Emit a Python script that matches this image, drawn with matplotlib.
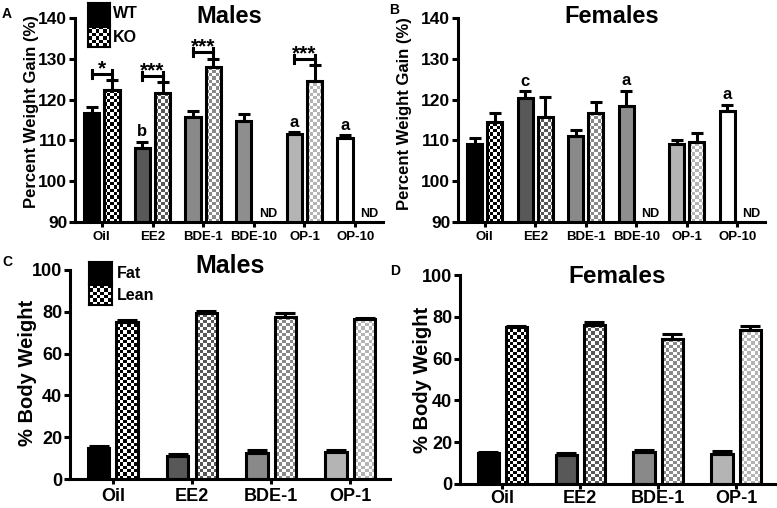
import numpy as np
import matplotlib
matplotlib.use('Agg')
import matplotlib.pyplot as plt
from matplotlib.colors import to_rgb

plt.rcParams['font.family'] = ['Liberation Sans', 'DejaVu Sans']
plt.rcParams['font.weight'] = 'bold'
plt.rcParams['axes.linewidth'] = 2.2

W, H = 777, 508

# 数据：体重增长 (%)
gain_groups = ['Oil', 'EE2', 'BDE-1', 'BDE-10', 'OP-1', 'OP-10']
gain_colors = ['#000000', '#585858', '#898989', '#8e8e8e', '#b4b4b4', '#ffffff']

male_wt = [116.6, 108.2, 115.7, 114.8, 111.6, 110.5]
male_wt_err = [1.7, 1.5, 1.5, 1.6, 0.4, 0.8]
male_ko = [122.4, 121.7, 128.1, None, 124.6, None]
male_ko_err = [2.3, 2.5, 1.9, None, 3.8, None]
male_sig = ['*', '***', '***', '', '***', '']
male_letters = ['', 'b', '', '', 'a', 'a']

fem_wt = [109.1, 120.3, 111.1, 118.4, 109.0, 117.2]
fem_wt_err = [1.4, 1.7, 1.4, 3.8, 1.2, 1.5]
fem_ko = [114.6, 115.8, 116.6, None, 109.5, None]
fem_ko_err = [2.2, 4.9, 2.7, None, 2.4, None]
fem_sig = ['', '', '', '', '', '']
fem_letters = ['', 'c', '', 'a', '', 'a']

# 数据：身体组成 (% body weight)
comp_groups = ['Oil', 'EE2', 'BDE-1', 'OP-1']
comp_colors = ['#000000', '#585858', '#898989', '#b4b4b4']

male_fat = [14.9, 11.0, 12.6, 13.0]
male_fat_err = [1.0, 0.8, 1.2, 0.8]
male_lean = [75.0, 79.6, 77.6, 76.6]
male_lean_err = [1.0, 0.7, 2.0, 0.4]

fem_fat = [14.8, 13.9, 15.5, 14.3]
fem_fat_err = [0.4, 1.0, 1.0, 1.3]
fem_lean = [75.0, 76.2, 69.6, 73.8]
fem_lean_err = [0.6, 1.5, 2.0, 1.7]


def checker_image(nx, ny, color):
    jj, ii = np.meshgrid(np.arange(nx), np.arange(ny))
    mask = ((ii + jj) % 2)[..., None]
    return np.where(mask == 1, np.array(to_rgb(color)), np.ones(3))


def checker_fill(ax, patch, color, cell=3.3):
    x0, y0 = patch.get_x(), patch.get_y()
    w, h = patch.get_width(), patch.get_height()
    ylo = max(y0, ax.get_ylim()[0])
    p0 = ax.transData.transform((x0, ylo))
    p1 = ax.transData.transform((x0 + w, y0 + h))
    nx = max(2, int(round((p1[0] - p0[0]) / cell)))
    ny = int(np.ceil((p1[1] - p0[1]) / cell))
    yhi = ylo + ny * cell * (y0 + h - ylo) / (p1[1] - p0[1])
    im = ax.imshow(checker_image(nx, ny, color), extent=(x0, x0 + w, ylo, yhi),
                   origin='lower', interpolation='nearest', aspect='auto', zorder=1.5)
    im.set_clip_path(patch)


def style_axes(ax, ysize, xsize, xpad=3):
    for s in ['top', 'right']:
        ax.spines[s].set_visible(False)
    ax.tick_params(axis='y', direction='out', length=4, width=2.2, pad=1.5,
                   labelsize=ysize)
    ax.tick_params(axis='x', direction='out', length=3.5, width=2.2, pad=xpad,
                   labelsize=xsize)
    for lab in ax.get_xticklabels() + ax.get_yticklabels():
        lab.set_fontweight('bold')


def up_err(ax, xs, tops, errs, capsize):
    ax.errorbar(xs, tops, yerr=[np.zeros(len(errs)), errs], fmt='none', ecolor='black',
                elinewidth=2.2, capsize=capsize, capthick=2.2, zorder=4)


def gain_panel(ax, wt, wt_err, ko, ko_err, sig, letters):
    x = np.arange(len(gain_groups))
    ax.set_xlim(-0.53, 5.55)
    ax.set_ylim(90, 140)
    ax.set_yticks(np.arange(90, 141, 10))
    ax.set_xticks(x)
    ax.set_xticklabels(gain_groups)
    off, bw = 0.2, 0.3
    ax.bar(x - off, wt, bw, color=gain_colors, edgecolor='black', linewidth=2.2, zorder=2)
    up_err(ax, x - off, wt, wt_err, 4.5)
    for i in x:
        if ko[i] is None:
            ax.text(i + 0.28, 90.6, 'ND', ha='center', va='bottom', fontsize=9,
                    fontweight='bold')
            continue
        bar = ax.bar(i + off, ko[i], bw, color='none', edgecolor='black',
                     linewidth=2.2, zorder=2)[0]
        checker_fill(ax, bar, gain_colors[i])
        up_err(ax, [i + off], [ko[i]], [ko_err[i]], 4.5)
        if sig[i]:
            yb = ko[i] + ko_err[i] + 1.6
            ax.plot([i - off, i + off], [yb, yb], color='black', lw=2.2, zorder=4)
            for xe in (i - off, i + off):
                ax.plot([xe, xe], [yb - 1.0, yb + 1.0], color='black', lw=2.2, zorder=4)
            ax.text(i, yb - 0.1, sig[i], ha='center', va='baseline', fontsize=15,
                    fontweight='bold')
    for i in x:
        if letters[i]:
            ax.text(i - off, wt[i] + wt_err[i] + 0.6, letters[i], ha='center',
                    va='bottom', fontsize=12, fontweight='bold')
    style_axes(ax, 12.5, 9.5)


def comp_panel(ax, fat, fat_err, lean, lean_err, xpad):
    x = np.arange(len(comp_groups))
    ax.set_xlim(-0.54, 3.5)
    ax.set_ylim(0, 100)
    ax.set_yticks(np.arange(0, 101, 20))
    ax.set_xticks(x)
    ax.set_xticklabels(comp_groups)
    off, bw = 0.18, 0.27
    ax.bar(x - off, fat, bw, color=comp_colors, edgecolor='black', linewidth=2.2, zorder=2)
    up_err(ax, x - off, fat, fat_err, 7)
    bars = ax.bar(x + off, lean, bw, color='none', edgecolor='black', linewidth=2.2, zorder=2)
    for bar, c in zip(bars, comp_colors):
        checker_fill(ax, bar, c)
    up_err(ax, x + off, lean, lean_err, 7)
    style_axes(ax, 13, 13, xpad)


def swatch(fig, box, color, checker):
    x0, y0, x1, y1 = box
    sax = fig.add_axes([x0 / W, 1 - y1 / H, (x1 - x0) / W, (y1 - y0) / H])
    if checker:
        sax.imshow(checker_image(6, 6, color), extent=(0, 1, 0, 1), aspect='auto',
                   interpolation='nearest')
    else:
        sax.set_facecolor(color)
    sax.set_xticks([])
    sax.set_yticks([])
    for s in sax.spines.values():
        s.set_linewidth(1.5)


fig = plt.figure(figsize=(W / 100, H / 100), dpi=100)

axA = fig.add_axes([75 / W, 1 - 222 / H, 308 / W, 204 / H])
axB = fig.add_axes([458 / W, 1 - 222 / H, 307 / W, 204 / H])
axC = fig.add_axes([70 / W, 1 - 479 / H, 320 / W, 209 / H])
axD = fig.add_axes([460 / W, 1 - 484 / H, 315 / W, 209 / H])

gain_panel(axA, male_wt, male_wt_err, male_ko, male_ko_err, male_sig, male_letters)
gain_panel(axB, fem_wt, fem_wt_err, fem_ko, fem_ko_err, fem_sig, fem_letters)
comp_panel(axC, male_fat, male_fat_err, male_lean, male_lean_err, 3)
comp_panel(axD, fem_fat, fem_fat_err, fem_lean, fem_lean_err, 0.5)

# 标题
axA.text(0.5, 0.977, 'Males', transform=axA.transAxes, ha='center', va='baseline',
         fontsize=17, fontweight='bold')
axB.text(0.5, 0.975, 'Females', transform=axB.transAxes, ha='center', va='baseline',
         fontsize=17, fontweight='bold')
axC.text(0.5, 0.986, 'Males', transform=axC.transAxes, ha='center', va='baseline',
         fontsize=18, fontweight='bold')
axD.text(0.5, 0.962, 'Females', transform=axD.transAxes, ha='center', va='baseline',
         fontsize=17.5, fontweight='bold')

# y轴标签
fig.text(32 / W, 1 - 112 / H, 'Percent Weight Gain (%)', rotation=90, ha='center',
         va='center', fontsize=12, fontweight='bold')
fig.text(405 / W, 1 - 114 / H, 'Percent Weight Gain (%)', rotation=90, ha='center',
         va='center', fontsize=12, fontweight='bold')
fig.text(28 / W, 1 - 373 / H, '% Body Weight', rotation=90, ha='center',
         va='center', fontsize=14.5, fontweight='bold')
fig.text(423 / W, 1 - 380 / H, '% Body Weight', rotation=90, ha='center',
         va='center', fontsize=14.5, fontweight='bold')

# 面板字母
for lab, px, py in [('A', 2, 18), ('B', 389, 14), ('C', 2, 266), ('D', 390, 275)]:
    fig.text(px / W, 1 - py / H, lab, ha='left', va='baseline', fontsize=10,
             fontweight='bold')

# 图例
swatch(fig, (88, 3, 110, 25), 'black', False)
swatch(fig, (88, 27, 110, 47), 'black', True)
fig.text(113 / W, 1 - 14 / H, 'WT', ha='left', va='center', fontsize=11.5, fontweight='bold')
fig.text(113 / W, 1 - 37 / H, 'KO', ha='left', va='center', fontsize=11.5, fontweight='bold')
swatch(fig, (89, 262, 112, 283), 'black', False)
swatch(fig, (89, 285, 112, 305), 'black', True)
fig.text(117 / W, 1 - 273 / H, 'Fat', ha='left', va='center', fontsize=11.5, fontweight='bold')
fig.text(117 / W, 1 - 296 / H, 'Lean', ha='left', va='center', fontsize=11.5, fontweight='bold')

fig.savefig('out.png', dpi=100)
